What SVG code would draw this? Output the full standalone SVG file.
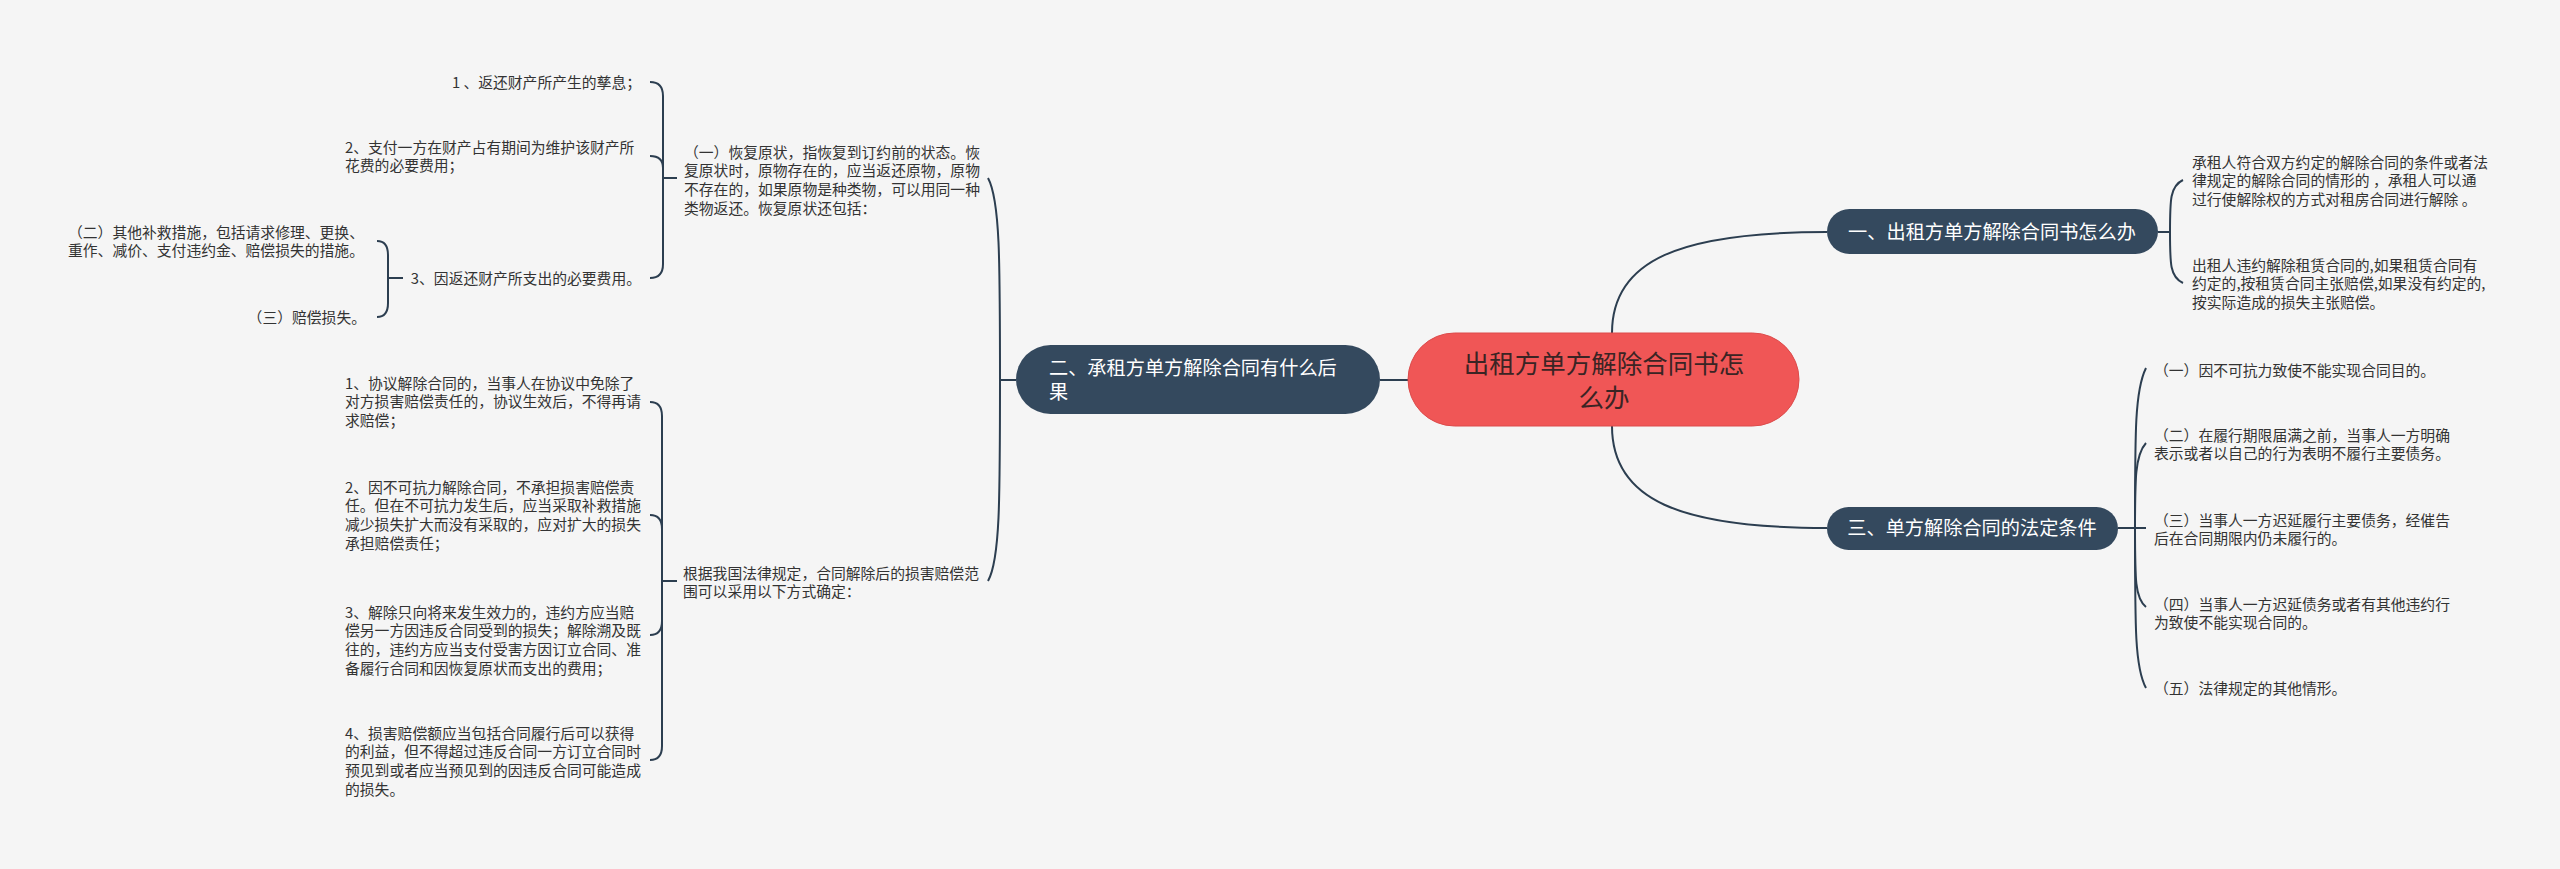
<svg xmlns="http://www.w3.org/2000/svg" width="2560" height="869" viewBox="0 0 2560 869">
<style>
text{font-family:"Noto Sans CJK SC","Noto Sans",sans-serif}
.leaf{font-size:14.8px;fill:#333333}
.br{font-size:19.2px;fill:#ffffff}
.root{font-size:25.5px;fill:#3a2424}
.bn{fill:#34495e}
.c{fill:none;stroke:#2c3e50;stroke-width:2}
</style>
<rect width="2560" height="869" fill="#f5f5f5"/>
<g id="connectors">
<path class="c" d="M1409,380 H1380"/>
<path class="c" d="M1016,380 H1000 C1000,260 1000,200 988,178"/>
<path class="c" d="M1000,380 C1000,500 1000,560 988,581"/>
<path class="c" d="M1612,333 C1612,260 1680,232 1827,232"/>
<path class="c" d="M1612,426 C1612,500 1680,528 1827,528"/>
<path class="c" d="M2158,232 H2170 C2170,200 2170,186 2183,180"/>
<path class="c" d="M2170,232 C2170,264 2170,277 2183,283"/>
<path class="c" d="M2118,528 H2146"/>
<path class="c" d="M2135,528 C2135,430 2135,390 2146,368"/>
<path class="c" d="M2135,528 C2135,480 2135,455 2146,443"/>
<path class="c" d="M2135,528 C2135,580 2135,598 2146,607"/>
<path class="c" d="M2135,528 C2135,630 2135,668 2146,688"/>
<path class="c" d="M677,178 H663 V96 Q663,82 650,82"/>
<path class="c" d="M663,178 V168 Q663,156 650,156"/>
<path class="c" d="M663,178 V264 Q663,278 650,278"/>
<path class="c" d="M403,278 H388 V255 Q388,241 377,241"/>
<path class="c" d="M388,278 V303 Q388,317 377,317"/>
<path class="c" d="M677,581 H662 V416 Q662,402 650,402"/>
<path class="c" d="M662,581 V529 Q662,515 650,515"/>
<path class="c" d="M662,581 V621 Q662,635 650,635"/>
<path class="c" d="M662,581 V746 Q662,760 650,760"/>
</g>
<g id="root">
<rect x="1408" y="333" width="391" height="93" rx="46.5" fill="#f05656" stroke="#dc4b4b" stroke-width="1"/>
<text class="root" text-anchor="middle"><tspan x="1604" y="372.5">出租方单方解除合同书怎</tspan><tspan x="1604" y="406.5">么办</tspan></text>
</g>
<g id="n2">
<rect class="bn" x="1016" y="345" width="364" height="69" rx="34.5"/>
<text class="br"><tspan x="1049" y="375">二、承租方单方解除合同有什么后</tspan><tspan x="1049" y="399">果</tspan></text>
</g>
<g id="n1">
<rect class="bn" x="1827" y="209" width="331" height="45" rx="22.5"/>
<text class="br" x="1992" y="239" text-anchor="middle">一、出租方单方解除合同书怎么办</text>
</g>
<g id="n3">
<rect class="bn" x="1827" y="507" width="291" height="43" rx="21.5"/>
<text class="br" x="1972" y="535" text-anchor="middle">三、单方解除合同的法定条件</text>
</g>
<g id="a">
<text class="leaf"><tspan x="684" y="157.5">（一）恢复原状，指恢复到订约前的状态。恢</tspan><tspan x="684" dy="18.7">复原状时，原物存在的，应当返还原物，原物</tspan><tspan x="684" dy="18.7">不存在的，如果原物是种类物，可以用同一种</tspan><tspan x="684" dy="18.7">类物返还。恢复原状还包括：</tspan></text>
</g>
<g id="a1"><text class="leaf" x="641" y="87.5" text-anchor="end">1 、返还财产所产生的孳息；</text></g>
<g id="a2"><text class="leaf"><tspan x="345" y="152.5">2、支付一方在财产占有期间为维护该财产所</tspan><tspan x="345" dy="18.7">花费的必要费用；</tspan></text></g>
<g id="a3"><text class="leaf" x="641" y="283.5" text-anchor="end">3、因返还财产所支出的必要费用。</text></g>
<g id="a3a"><text class="leaf"><tspan x="68" y="237.5">（二）其他补救措施，包括请求修理、更换、</tspan><tspan x="68" dy="18.7">重作、减价、支付违约金、赔偿损失的措施。</tspan></text></g>
<g id="a3b"><text class="leaf" x="366" y="322.5" text-anchor="end">（三）赔偿损失。</text></g>
<g id="b">
<text class="leaf"><tspan x="683" y="578.5">根据我国法律规定，合同解除后的损害赔偿范</tspan><tspan x="683" dy="18.7">围可以采用以下方式确定：</tspan></text>
</g>
<g id="b1"><text class="leaf"><tspan x="345" y="388.5">1、协议解除合同的，当事人在协议中免除了</tspan><tspan x="345" dy="18.7">对方损害赔偿责任的，协议生效后，不得再请</tspan><tspan x="345" dy="18.7">求赔偿；</tspan></text></g>
<g id="b2"><text class="leaf"><tspan x="345" y="492.5">2、因不可抗力解除合同，不承担损害赔偿责</tspan><tspan x="345" dy="18.7">任。但在不可抗力发生后，应当采取补救措施</tspan><tspan x="345" dy="18.7">减少损失扩大而没有采取的，应对扩大的损失</tspan><tspan x="345" dy="18.7">承担赔偿责任；</tspan></text></g>
<g id="b3"><text class="leaf"><tspan x="345" y="617.5">3、解除只向将来发生效力的，违约方应当赔</tspan><tspan x="345" dy="18.7">偿另一方因违反合同受到的损失；解除溯及既</tspan><tspan x="345" dy="18.7">往的，违约方应当支付受害方因订立合同、准</tspan><tspan x="345" dy="18.7">备履行合同和因恢复原状而支出的费用；</tspan></text></g>
<g id="b4"><text class="leaf"><tspan x="345" y="738.5">4、损害赔偿额应当包括合同履行后可以获得</tspan><tspan x="345" dy="18.7">的利益，但不得超过违反合同一方订立合同时</tspan><tspan x="345" dy="18.7">预见到或者应当预见到的因违反合同可能造成</tspan><tspan x="345" dy="18.7">的损失。</tspan></text></g>
<g id="d1"><text class="leaf"><tspan x="2192" y="167.5">承租人符合双方约定的解除合同的条件或者法</tspan><tspan x="2192" dy="18.7">律规定的解除合同的情形的 ，承租人可以通</tspan><tspan x="2192" dy="18.7">过行使解除权的方式对租房合同进行解除 。</tspan></text></g>
<g id="d2"><text class="leaf"><tspan x="2192" y="270.5">出租人违约解除租赁合同的,如果租赁合同有</tspan><tspan x="2192" dy="18.7">约定的,按租赁合同主张赔偿,如果没有约定的,</tspan><tspan x="2192" dy="18.7">按实际造成的损失主张赔偿。</tspan></text></g>
<g id="c1"><text class="leaf" x="2154" y="375.5">（一）因不可抗力致使不能实现合同目的。</text></g>
<g id="c2"><text class="leaf"><tspan x="2154" y="440.5">（二）在履行期限届满之前，当事人一方明确</tspan><tspan x="2154" dy="18.7">表示或者以自己的行为表明不履行主要债务。</tspan></text></g>
<g id="c3"><text class="leaf"><tspan x="2154" y="525.5">（三）当事人一方迟延履行主要债务，经催告</tspan><tspan x="2154" dy="18.7">后在合同期限内仍未履行的。</tspan></text></g>
<g id="c4"><text class="leaf"><tspan x="2154" y="609.5">（四）当事人一方迟延债务或者有其他违约行</tspan><tspan x="2154" dy="18.7">为致使不能实现合同的。</tspan></text></g>
<g id="c5"><text class="leaf" x="2154" y="693.5">（五）法律规定的其他情形。</text></g>
</svg>
